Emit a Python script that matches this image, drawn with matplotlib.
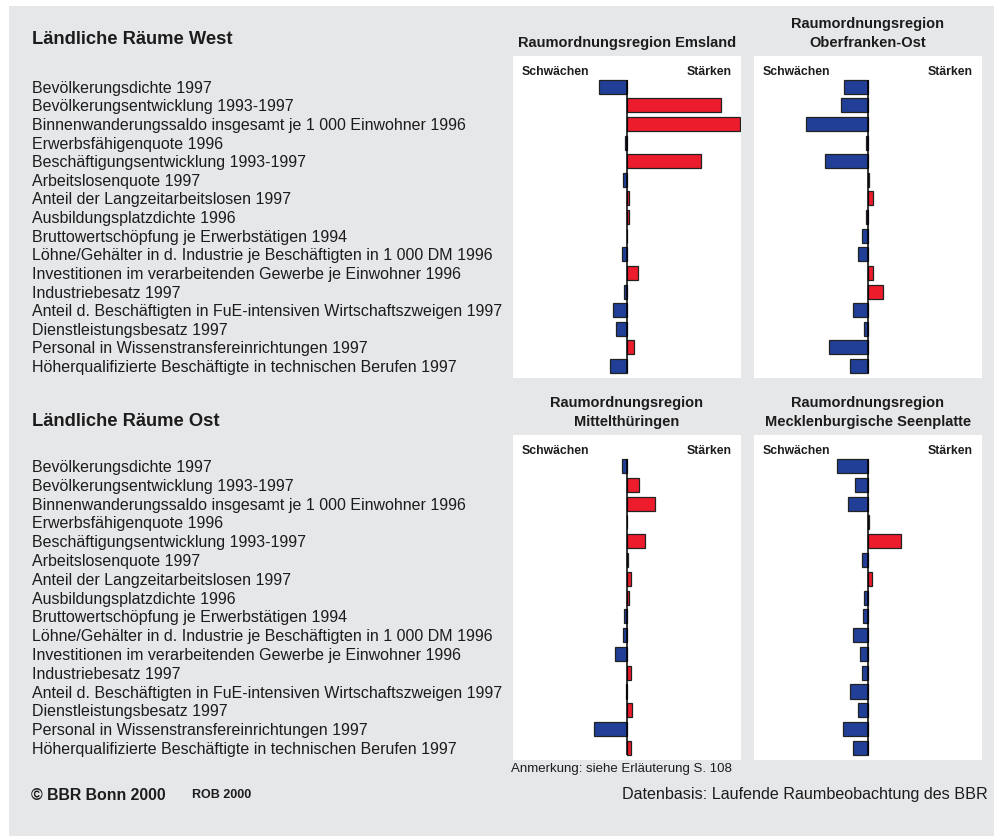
import matplotlib
matplotlib.use("Agg")
import matplotlib.pyplot as plt
import matplotlib.transforms as mtransforms
from matplotlib.patches import Rectangle

plt.rcParams['font.family'] = ['Liberation Sans', 'DejaVu Sans']

indikatoren = [
    "Bevölkerungsdichte 1997",
    "Bevölkerungsentwicklung 1993-1997",
    "Binnenwanderungssaldo insgesamt je 1 000 Einwohner 1996",
    "Erwerbsfähigenquote 1996",
    "Beschäftigungsentwicklung 1993-1997",
    "Arbeitslosenquote 1997",
    "Anteil der Langzeitarbeitslosen 1997",
    "Ausbildungsplatzdichte 1996",
    "Bruttowertschöpfung je Erwerbstätigen 1994",
    "Löhne/Gehälter in d. Industrie je Beschäftigten in 1 000 DM 1996",
    "Investitionen im verarbeitenden Gewerbe je Einwohner 1996",
    "Industriebesatz 1997",
    "Anteil d. Beschäftigten in FuE-intensiven Wirtschaftszweigen 1997",
    "Dienstleistungsbesatz 1997",
    "Personal in Wissenstransfereinrichtungen 1997",
    "Höherqualifizierte Beschäftigte in technischen Berufen 1997",
]

# Abweichungen (Indexwerte)
emsland = [-28.3, 94.0, 113.0, -1.7, 73.7, -4.3, 2.3, 2.0, 0.5, -5.3,
           10.7, -3.3, -14.3, -11.3, 7.0, -17.3]
oberfranken = [-24.3, -26.7, -62.0, -1.7, -42.7, 1.3, 4.7, -2.0, -5.7, -10.3,
               4.7, 14.7, -14.7, -3.7, -38.7, -17.7]
mittelthueringen = [-5.0, 12.3, 28.3, 0.5, 18.3, 1.0, 3.7, 2.3, -3.0, -4.3,
                    -12.3, 4.3, -0.7, 5.3, -32.7, 3.7]
mecklenburg = [-31.0, -13.0, -20.3, 0.8, 33.0, -6.0, 4.3, -4.0, -5.0, -14.7,
               -8.0, -6.3, -18.0, -10.0, -25.3, -15.0]

W, H = 995, 836
BLAU = '#213f97'
ROT = '#ec1c2c'
GRAU = '#e6e7e9'
TEXT = '#1c1c1c'

fig = plt.figure(figsize=(W / 100, H / 100), dpi=100)
fig.patch.set_facecolor('white')
fig.patches.append(Rectangle((9 / W, 0), 1 - 9 / W, 1 - 6 / H,
                             transform=fig.transFigure, facecolor=GRAU,
                             edgecolor='none', zorder=-10))


def panel(x0, y0, x1, y1, werte, titel):
    ax = fig.add_axes([x0 / W, 1 - y1 / H, (x1 - x0) / W, (y1 - y0) / H])
    ax.set_facecolor('white')
    for s in ax.spines.values():
        s.set_visible(False)
    ax.set_xticks([])
    ax.set_yticks([])
    n = len(werte)
    farben = [ROT if v > 0 else BLAU for v in werte]
    ax.barh(range(n), werte, height=0.75, color=farben,
            edgecolor='#222222', linewidth=0.9, zorder=2)
    ax.vlines(0, -0.375, n - 1 + 0.375, color='black', linewidth=1.1, zorder=3)
    half = (x1 - x0) / 2
    ax.set_xlim(-half, half)
    ax.set_ylim(n - 1 + 12 / 18.6, -30.7 / 18.6)
    ax.text(0.04, 1 - 16 / (y1 - y0), 'Schwächen', fontsize=8.8,
            fontweight='bold', ha='left', va='center', color=TEXT,
            transform=ax.transAxes)
    ax.text(0.96, 1 - 16 / (y1 - y0), 'Stärken', fontsize=8.8,
            fontweight='bold', ha='right', va='center', color=TEXT,
            transform=ax.transAxes)
    ax.text(0.5, 1 + 6 / (y1 - y0), titel, fontsize=10.5, fontweight='bold',
            ha='center', va='bottom', color=TEXT, linespacing=1.45,
            transform=ax.transAxes)
    return ax


ax1 = panel(513, 56, 741, 378, emsland, 'Raumordnungsregion Emsland')
ax2 = panel(754, 56, 982, 378, oberfranken,
            'Raumordnungsregion\nOberfranken-Ost')
ax3 = panel(513, 435, 741, 760, mittelthueringen,
            'Raumordnungsregion\nMittelthüringen')
ax4 = panel(754, 435, 982, 760, mecklenburg,
            'Raumordnungsregion\nMecklenburgische Seenplatte')

for ax, kopf, ykopf in [(ax1, 'Ländliche Räume West', 40),
                        (ax3, 'Ländliche Räume Ost', 422)]:
    tr = mtransforms.blended_transform_factory(fig.transFigure, ax.transData)
    for i, name in enumerate(indikatoren):
        ax.text(32 / W, i + 0.08, name, fontsize=11.5, ha='left', va='center',
                color=TEXT, transform=tr, clip_on=False)
    fig.text(32 / W, 1 - ykopf / H, kopf, fontsize=13.2, fontweight='bold',
             ha='left', va='center', color=TEXT)

fig.text(511 / W, 1 - 769 / H, 'Anmerkung: siehe Erläuterung S. 108',
         fontsize=9.5, ha='left', va='center', color=TEXT)
fig.text(31 / W, 1 - 795 / H, '© BBR Bonn 2000', fontsize=11.4,
         fontweight='bold', ha='left', va='center', color=TEXT)
fig.text(192 / W, 1 - 795 / H, 'ROB 2000', fontsize=9,
         fontweight='bold', ha='left', va='center', color=TEXT)
fig.text(988 / W, 1 - 795 / H, 'Datenbasis: Laufende Raumbeobachtung des BBR',
         fontsize=11.6, ha='right', va='center', color=TEXT)

fig.savefig('out.png', dpi=100, facecolor=fig.get_facecolor())
